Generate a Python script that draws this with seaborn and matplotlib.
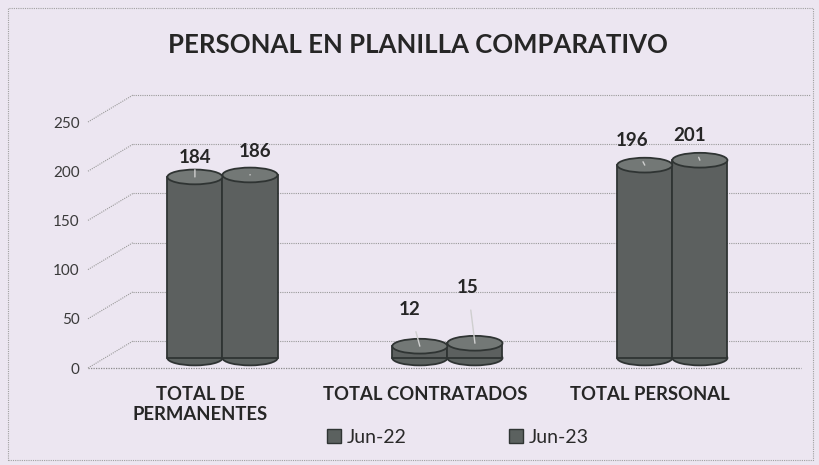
#Gráfica comparativa del personal en planilla (cilindros estilo Excel 3D)
import pandas as pd
import matplotlib
matplotlib.use("Agg")
import matplotlib.pyplot as plt
import matplotlib.patches as mpatches
from matplotlib.transforms import offset_copy
import seaborn as sns

# Datos
categorias = ["TOTAL DE\nPERMANENTES", "TOTAL CONTRATADOS", "TOTAL PERSONAL"]
periodos = ["Jun-22", "Jun-23"]
jun_22 = [184, 12, 196]
jun_23 = [186, 15, 201]
ticks_y = [0, 50, 100, 150, 200, 250]

# desfase (px) de cada etiqueta respecto a la tapa del cilindro
desfase_etiquetas = [[(0, 19), (-10, 37), (-13, 25)],
                     [(5, 23), (-7, 56), (-10, 25)]]

fondo = "#ece6f1"
cuerpo = "#5b615f"
borde = "#2f3433"
tapa = "#737876"

df = pd.DataFrame({
    "categoria": categorias * 2,
    "periodo": [periodos[0]] * 3 + [periodos[1]] * 3,
    "valor": jun_22 + jun_23,
})

sns.set_theme(style="white")
plt.rcParams["font.family"] = ["Lato", "DejaVu Sans"]

fig = plt.figure(figsize=(8.19, 4.65), dpi=100, facecolor=fondo)
ax = fig.add_axes([88 / 819, 97 / 465, 713 / 819, 246 / 465])
ax.set_facecolor("none")

sns.barplot(data=df, x="categoria", y="valor", hue="periodo",
            palette=[cuerpo, cuerpo], width=0.49, ax=ax, legend=False,
            edgecolor=borde, linewidth=1.3, zorder=3)

ax.set_xlim(-0.5, 2.67)
ax.set_ylim(0, 250)
ax.set_yticks(ticks_y)
ax.tick_params(axis="y", labelsize=11, labelcolor="#3a3a3a", pad=6, length=0)
ax.tick_params(axis="x", labelsize=13.3, labelcolor="#262626", pad=13, length=0)
for t in ax.get_xticklabels():
    t.set_fontweight("bold")
ax.set_xlabel("")
ax.set_ylabel("")
for s in ax.spines.values():
    s.set_visible(False)

# pared del fondo (perspectiva)
dx, dy = 0.2, 27.4
x_izq, x_der = -0.5, 2.51
for v in ticks_y:
    ax.plot([x_izq, x_izq + dx], [v, v + dy], color="#9a9a9a", lw=0.8,
            ls=(0, (1, 1)), clip_on=False, zorder=1)
    ax.plot([x_izq + dx, x_der + dx], [v + dy, v + dy], color="#9a9a9a",
            lw=0.8, ls=(0, (1, 1)), clip_on=False, zorder=1)
ax.plot([x_izq, 2.67], [0, 0], color="#8a8a8a", lw=0.9, ls=(0, (1, 1)),
        clip_on=False, zorder=1)

# los cilindros están a media profundidad
plano = offset_copy(ax.transData, fig=fig, x=22, y=10, units="dots")
alto_tapa = 15
for i, cont in enumerate(ax.containers):
    for j, barra in enumerate(cont):
        barra.set_transform(plano)
        cx = barra.get_x() + barra.get_width() / 2
        w = barra.get_width()
        h = barra.get_height()
        base = mpatches.Ellipse((cx, 0), w, alto_tapa, facecolor=cuerpo,
                                edgecolor=borde, lw=1.3, transform=plano,
                                zorder=2.9)
        ax.add_patch(base)
        sup = mpatches.Ellipse((cx, h), w, alto_tapa, facecolor=tapa,
                               edgecolor=borde, lw=1.3, transform=plano,
                               zorder=3.1)
        ax.add_patch(sup)
        ox, oy = desfase_etiquetas[i][j]
        ax.annotate(f"{int(h)}", xy=(cx, h), xycoords=plano,
                    xytext=(ox / 1.389, oy / 1.389), textcoords="offset points",
                    ha="center", va="center", fontsize=13.5, fontweight="bold",
                    color="#262626", zorder=5,
                    arrowprops=dict(arrowstyle="-", color="#cfcfcf", lw=1,
                                    shrinkA=8, shrinkB=0))

fig.text(418 / 819, 1 - 45 / 465, "PERSONAL EN PLANILLA COMPARATIVO",
         ha="center", va="center", fontsize=18.5, fontweight="bold",
         color="#262626")

manijas = [mpatches.Patch(facecolor=cuerpo, edgecolor=borde, label=p)
           for p in periodos]
fig.legend(handles=manijas, loc="center", bbox_to_anchor=(458 / 819, 1 - 437 / 465),
           ncol=2, frameon=False, fontsize=14, handlelength=0.7,
           handleheight=0.7, handletextpad=0.3, columnspacing=5.3,
           labelcolor="#2a2a2a")

marco = mpatches.Rectangle((8 / 819, 5 / 465), 805 / 819, 452 / 465,
                           transform=fig.transFigure, fill=False,
                           edgecolor="#a0a0a0", lw=0.8, ls=(0, (1, 1)))
fig.patches.append(marco)

plt.savefig("out.png", dpi=100, facecolor=fondo)
plt.close()
